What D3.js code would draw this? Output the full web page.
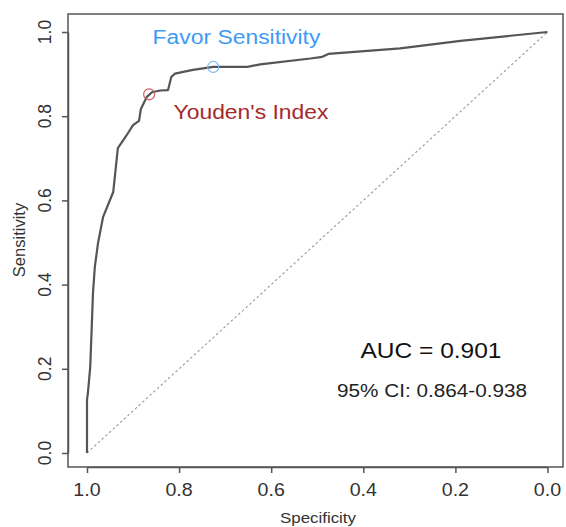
<!DOCTYPE html>
<html><head><meta charset="utf-8">
<script src="https://cdn.jsdelivr.net/npm/d3@7"></script>
<style>body{margin:0;background:#fff}svg{display:block}text{font-family:"Liberation Sans",Arial,sans-serif}</style>
</head><body><svg id="c" width="566" height="527"></svg>
<script>
// ROC curve points (specificity, sensitivity)
const specificity = [1.000,1.000,0.998,0.993,0.987,0.983,0.976,0.965,0.943,0.933,0.915,0.900,0.887,0.883,0.870,0.859,0.841,0.824,0.817,0.809,0.770,0.726,0.652,0.624,0.515,0.489,0.476,0.320,0.189,0.000];
const sensitivity = [0.000,0.126,0.143,0.204,0.380,0.442,0.499,0.561,0.620,0.724,0.753,0.779,0.789,0.817,0.846,0.857,0.861,0.862,0.893,0.901,0.910,0.917,0.917,0.923,0.937,0.941,0.948,0.961,0.979,1.000];
const tickValues = [1.0,0.8,0.6,0.4,0.2,0.0];
const yTickValues = [0.0,0.2,0.4,0.6,0.8,1.0];
const youden = {spec:0.865, sens:0.852, label:"Youden's Index"};
const favor = {spec:0.726, sens:0.917, label:"Favor Sensitivity"};
const aucText = "AUC = 0.901";
const ciText = "95% CI: 0.864-0.938";

const svg = d3.select("#c");
const x = d3.scaleLinear().domain([1,0]).range([87,547.5]);
const y = d3.scaleLinear().domain([0,1]).range([453,32]);
const box = {l:68, r:563, t:14, b:467};
const SX = 1.09; // horizontal stretch of text in reference

function txt(g, tx, ty, s, size, color, anchor, rot){
  const t = g.append("text")
    .attr("transform", `translate(${tx},${ty})` + (rot ? ` rotate(${rot})` : ` scale(${SX},1)`))
    .attr("text-anchor", anchor||"middle").attr("dominant-baseline","central")
    .attr("font-size", size).attr("fill", color).text(s);
  return t;
}

// diagonal
svg.append("line").attr("x1",x(1)).attr("y1",y(0)).attr("x2",x(0)).attr("y2",y(1))
  .attr("stroke","#999").attr("stroke-width",1.1).attr("stroke-dasharray","2.5,2.5");

// curve
const pts = specificity.map((s,i)=>[s,sensitivity[i]]);
svg.append("path").datum(pts)
  .attr("d", d3.line().x(d=>x(d[0])).y(d=>y(d[1])))
  .attr("fill","none").attr("stroke","#555").attr("stroke-width",2.2).attr("stroke-linejoin","round");

// markers
svg.append("circle").attr("cx",x(youden.spec)).attr("cy",y(youden.sens)).attr("r",5.5)
  .attr("fill","none").attr("stroke","#c85a5a").attr("stroke-width",1.2);
svg.append("circle").attr("cx",x(favor.spec)).attr("cy",y(favor.sens)).attr("r",5.5)
  .attr("fill","none").attr("stroke","#7dbcf5").attr("stroke-width",1.2);

txt(svg, 236.5, 37, favor.label, 21, "#3d9bf5");
txt(svg, 251, 112, youden.label, 21, "#a52a2a");
txt(svg, 431, 350, aucText, 22.5, "#111");
txt(svg, 432, 390, ciText, 19, "#222");

// box
svg.append("rect").attr("x",box.l).attr("y",box.t).attr("width",box.r-box.l).attr("height",box.b-box.t)
  .attr("fill","none").attr("stroke","#555").attr("stroke-width",1.5);

// axes
const gx = svg.append("g").attr("transform",`translate(0,${box.b})`)
  .call(d3.axisBottom(x).tickValues(tickValues).tickSize(6).tickSizeOuter(0).tickFormat(d3.format(".1f")));
gx.select(".domain").attr("stroke","#555").attr("stroke-width",1.5);
gx.selectAll(".tick line").attr("stroke","#555").attr("stroke-width",1.5);
gx.selectAll(".tick text").remove();
tickValues.forEach(v=>txt(svg, x(v), 490, d3.format(".1f")(v), 18, "#333"));

const gy = svg.append("g").attr("transform",`translate(${box.l},0)`)
  .call(d3.axisLeft(y).tickValues(yTickValues).tickSize(6).tickSizeOuter(0).tickFormat(d3.format(".1f")));
gy.select(".domain").attr("stroke","#555").attr("stroke-width",1.5);
gy.selectAll(".tick line").attr("stroke","#555").attr("stroke-width",1.5);
gy.selectAll(".tick text").remove();
yTickValues.forEach(v=>txt(svg, 45, y(v), d3.format(".1f")(v), 17.5, "#333", "middle", -90));

txt(svg, 318, 517, "Specificity", 15.5, "#333");
txt(svg, 19, 240, "Sensitivity", 16.5, "#333", "middle", -90);
</script></body></html>
